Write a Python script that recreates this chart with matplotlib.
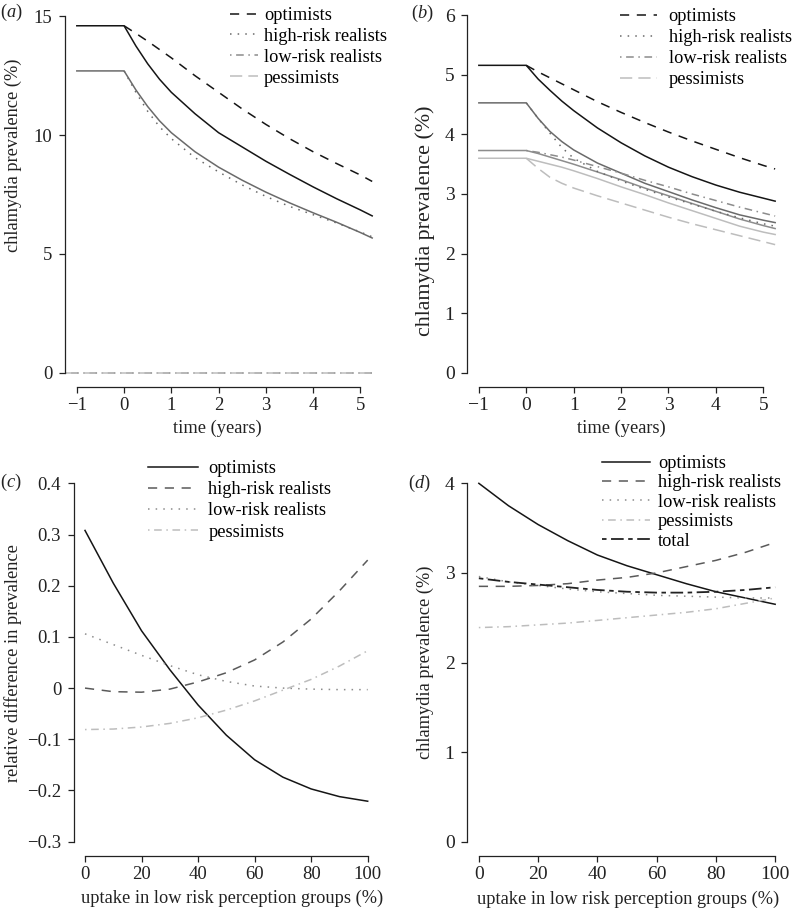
import matplotlib
matplotlib.use("Agg")
import matplotlib.pyplot as plt

plt.rcParams['font.family'] = ['Liberation Serif', 'DejaVu Serif']
plt.rcParams['mathtext.fontset'] = 'custom'
plt.rcParams['mathtext.rm'] = 'Liberation Serif'
plt.rcParams['mathtext.it'] = 'Liberation Serif:italic'

# ---------------- data ----------------
groups = ["optimists", "high-risk realists", "low-risk realists", "pessimists"]

# time axis for baseline (solid) curves and intervention curves
t_base = [-1, 0, 0.25, 0.5, 0.75, 1, 1.5, 2, 2.5, 3, 3.5, 4, 4.5, 5, 5.25]
t_int = [0, 0.25, 0.5, 0.75, 1, 1.5, 2, 2.5, 3, 3.5, 4, 4.5, 5, 5.25]
t_zero = [-1.25, 5.25]

# panel (a)
a_opt_base = [14.6, 14.6, 13.75, 13.0, 12.35, 11.8, 10.9, 10.1, 9.5, 8.9, 8.35, 7.82, 7.32, 6.85, 6.6]
a_hr_base = [12.7, 12.7, 11.9, 11.2, 10.6, 10.1, 9.3, 8.65, 8.1, 7.6, 7.15, 6.73, 6.33, 5.9, 5.67]
a_opt_int = [14.6, 14.28, 13.95, 13.6, 13.25, 12.5, 11.8, 11.1, 10.45, 9.85, 9.3, 8.8, 8.32, 8.05]
a_hr_int = [12.7, 11.8, 11.0, 10.35, 9.85, 9.05, 8.45, 7.9, 7.42, 7.0, 6.65, 6.3, 5.92, 5.72]
a_lr_int = [0, 0]
a_pe_int = [0, 0]

# panel (b)
b_opt_base = [5.16, 5.16, 4.93, 4.74, 4.56, 4.40, 4.11, 3.86, 3.64, 3.45, 3.29, 3.15, 3.03, 2.93, 2.88]
b_hr_base = [4.53, 4.53, 4.27, 4.05, 3.88, 3.74, 3.52, 3.35, 3.18, 3.04, 2.9, 2.77, 2.65, 2.56, 2.52]
b_lr_base = [3.73, 3.73, 3.68, 3.62, 3.56, 3.5, 3.37, 3.24, 3.1, 2.97, 2.84, 2.71, 2.58, 2.47, 2.42]
b_pe_base = [3.6, 3.6, 3.55, 3.5, 3.45, 3.39, 3.26, 3.12, 2.99, 2.85, 2.72, 2.59, 2.46, 2.36, 2.32]
b_opt_int = [5.16, 5.05, 4.95, 4.85, 4.75, 4.55, 4.37, 4.2, 4.04, 3.89, 3.75, 3.61, 3.48, 3.42]
b_hr_int = [4.53, 4.27, 4.02, 3.78, 3.6, 3.38, 3.22, 3.08, 2.95, 2.83, 2.71, 2.6, 2.5, 2.46]
b_lr_int = [3.73, 3.70, 3.66, 3.62, 3.57, 3.46, 3.35, 3.23, 3.12, 3.0, 2.89, 2.78, 2.68, 2.63]
b_pe_int = [3.6, 3.43, 3.28, 3.18, 3.1, 2.97, 2.85, 2.73, 2.61, 2.5, 2.4, 2.3, 2.2, 2.15]

# panels (c) and (d)
uptake = [0, 10, 20, 30, 40, 50, 60, 70, 80, 90, 100]
c_opt = [0.308, 0.205, 0.112, 0.036, -0.033, -0.092, -0.14, -0.174, -0.197, -0.212, -0.221]
c_hr = [0.0, -0.007, -0.008, -0.002, 0.012, 0.03, 0.055, 0.09, 0.135, 0.19, 0.25]
c_lr = [0.106, 0.085, 0.064, 0.044, 0.026, 0.013, 0.004, 0.0, -0.002, -0.003, -0.003]
c_pe = [-0.081, -0.08, -0.076, -0.069, -0.058, -0.043, -0.025, -0.004, 0.017, 0.043, 0.073]

d_opt = [4.0, 3.75, 3.54, 3.36, 3.2, 3.08, 2.98, 2.88, 2.79, 2.72, 2.65]
d_hr = [2.85, 2.85, 2.86, 2.88, 2.92, 2.95, 3.0, 3.07, 3.14, 3.23, 3.34]
d_lr = [2.96, 2.9, 2.86, 2.82, 2.79, 2.77, 2.75, 2.74, 2.73, 2.72, 2.72]
d_pe = [2.39, 2.4, 2.42, 2.44, 2.47, 2.5, 2.53, 2.56, 2.6, 2.66, 2.72]
d_tot = [2.94, 2.9, 2.87, 2.84, 2.81, 2.79, 2.78, 2.78, 2.79, 2.81, 2.84]

time_ticks = [-1, 0, 1, 2, 3, 4, 5]
uptake_ticks = [0, 20, 40, 60, 80, 100]

# ---------------- styles ----------------
BLACK = "#151515"
DGRAY = "#6a6a6a"
MGRAY = "#8c8c8c"
LGRAY = "#bdbdbd"
LS_DASH = (0, (6, 5))
LS_DOT = (0, (1, 4))
LS_DOTDASH = (0, (1, 3, 5, 3))
LS_LONG = (0, (8, 4))
LS_TWODASH = (0, (2.5, 2.5, 7, 2.5))
LW = 1.1
FS = 13.2

W, H = 794, 908
fig = plt.figure(figsize=(W / 100, H / 100), dpi=100)


def axes_px(x0, y0, x1, y1):
    return fig.add_axes([x0 / W, 1 - y1 / H, (x1 - x0) / W, (y1 - y0) / H])


def style(ax, xb, yb, fs):
    for s in ("top", "right"):
        ax.spines[s].set_visible(False)
    ax.spines["left"].set_bounds(*yb)
    ax.spines["bottom"].set_bounds(*xb)
    for s in ("left", "bottom"):
        ax.spines[s].set_linewidth(0.9)
        ax.spines[s].set_color("#222222")
    ax.tick_params(direction="out", length=4, width=0.9, colors="#222222",
                   labelsize=fs, labelcolor="#222222")
    ax.tick_params(axis="y", pad=5)
    ax.tick_params(axis="x", pad=3)


def ptext(x, y, s, fs, **kw):
    fig.text(x / W, 1 - y / H, s, fontsize=fs, color="#222222", **kw)


def legend(ax, x, y, hl, htp, ls):
    ax.legend(loc="upper left", bbox_to_anchor=(x / W, 1 - y / H),
              bbox_transform=fig.transFigure, frameon=False, fontsize=FS,
              handlelength=hl, handletextpad=htp, labelspacing=ls,
              borderpad=0, borderaxespad=0)


# ---------------- panel (a) ----------------
axa = axes_px(65, 2, 384, 387)
axa.plot(t_base, a_opt_base, color=BLACK, lw=LW)
axa.plot(t_base, a_hr_base, color=DGRAY, lw=LW)
axa.plot(t_int, a_opt_int, color=BLACK, lw=LW, ls=LS_DASH, label=groups[0])
axa.plot(t_int, a_hr_int, color=DGRAY, lw=LW, ls=LS_DOT, label=groups[1])
axa.plot(t_zero, a_lr_int, color=MGRAY, lw=LW, ls=LS_DOTDASH, label=groups[2])
axa.plot(t_zero, a_pe_int, color=LGRAY, lw=LW, ls=LS_LONG, label=groups[3])
axa.set_xlim(-1.25, 5.5)
axa.set_ylim(-0.6, 15.6)
axa.set_xticks(time_ticks)
axa.set_yticks([0, 5, 10, 15])
style(axa, (-1, 5), (0, 15), 13.5)
legend(axa, 230, 7, 1.5, 0.35, 0.21)

# ---------------- panel (b) ----------------
axb = axes_px(467, 1, 787, 387)
axb.plot(t_base, b_opt_base, color=BLACK, lw=LW)
axb.plot(t_base, b_hr_base, color=DGRAY, lw=LW)
axb.plot(t_base, b_lr_base, color=MGRAY, lw=LW)
axb.plot(t_base, b_pe_base, color=LGRAY, lw=LW)
axb.plot(t_int, b_opt_int, color=BLACK, lw=LW, ls=LS_DASH, label=groups[0])
axb.plot(t_int, b_hr_int, color=DGRAY, lw=LW, ls=LS_DOT, label=groups[1])
axb.plot(t_int, b_lr_int, color=MGRAY, lw=LW, ls=LS_DOTDASH, label=groups[2])
axb.plot(t_int, b_pe_int, color=LGRAY, lw=LW, ls=LS_LONG, label=groups[3])
axb.set_xlim(-1.25, 5.5)
axb.set_ylim(-0.24, 6.24)
axb.set_xticks(time_ticks)
axb.set_yticks([0, 1, 2, 3, 4, 5, 6])
style(axb, (-1, 5), (0, 6), 14)
legend(axb, 620, 8, 2.0, 0.65, 0.22)

# ---------------- panel (c) ----------------
axc = axes_px(73.7, 469, 379, 856)
axc.plot(uptake, c_opt, color=BLACK, lw=LW, label=groups[0])
axc.plot(uptake, c_hr, color="#5a5a5a", lw=LW, ls=LS_DASH, label=groups[1])
axc.plot(uptake, c_lr, color=MGRAY, lw=LW, ls=LS_DOT, label=groups[2])
axc.plot(uptake, c_pe, color=LGRAY, lw=LW, ls=LS_DOTDASH, label=groups[3])
axc.set_xlim(-4, 104)
axc.set_ylim(-0.328, 0.428)
axc.set_xticks(uptake_ticks)
axc.set_yticks([-0.3, -0.2, -0.1, 0, 0.1, 0.2, 0.3, 0.4])
axc.set_yticklabels(["\u22120.3", "\u22120.2", "\u22120.1", "0", "0.1", "0.2", "0.3", "0.4"])
style(axc, (0, 100), (-0.3, 0.4), 13.5)
legend(axc, 148, 460, 2.75, 0.55, 0.23)

# ---------------- panel (d) ----------------
axd = axes_px(467, 469, 787, 856)
axd.plot(uptake, d_opt, color=BLACK, lw=LW, label=groups[0])
axd.plot(uptake, d_hr, color="#5a5a5a", lw=LW, ls=LS_DASH, label=groups[1])
axd.plot(uptake, d_lr, color=MGRAY, lw=LW, ls=LS_DOT, label=groups[2])
axd.plot(uptake, d_pe, color=LGRAY, lw=LW, ls=LS_DOTDASH, label=groups[3])
axd.plot(uptake, d_tot, color="#222222", lw=1.3, ls=LS_TWODASH, label="total")
axd.set_xlim(-4, 104)
axd.set_ylim(-0.16, 4.16)
axd.set_xticks(uptake_ticks)
axd.set_yticks([0, 1, 2, 3, 4])
style(axd, (0, 100), (0, 4), 14)
legend(axd, 602, 455, 2.6, 0.45, 0.13)

# ---------------- labels ----------------
ptext(217, 428, "time (years)", FS, ha="center", va="center")
ptext(621, 428, "time (years)", FS, ha="center", va="center")
ptext(232, 898, "uptake in low risk perception groups (%)", FS, ha="center", va="center")
ptext(628, 899, "uptake in low risk perception groups (%)", FS, ha="center", va="center")

ptext(13, 155, "chlamydia prevalence (%)", FS, ha="center", va="center", rotation=90)
ptext(425, 221, "chlamydia prevalence (%)", 15.8, ha="center", va="center", rotation=90)
ptext(13, 663, "relative difference in prevalence", FS, ha="center", va="center", rotation=90)
ptext(425, 662, "chlamydia prevalence (%)", FS, ha="center", va="center", rotation=90)

ptext(0, 12, r"($\mathit{a}$)", FS, ha="left", va="center")
ptext(411, 13, r"($\mathit{b}$)", FS, ha="left", va="center")
ptext(0, 482, r"($\mathit{c}$)", FS, ha="left", va="center")
ptext(408, 483, r"($\mathit{d}$)", FS, ha="left", va="center")

fig.savefig("out.png", dpi=100)
